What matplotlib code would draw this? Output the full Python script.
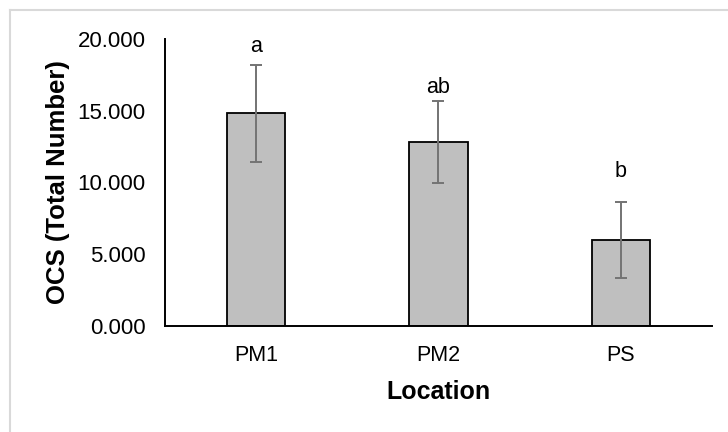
import matplotlib.pyplot as plt
from matplotlib.lines import Line2D

plt.rcParams["font.family"] = ["Liberation Sans", "DejaVu Sans"]

locations = ["PM1", "PM2", "PS"]
means = [14.82, 12.82, 5.99]
errors = [3.40, 2.88, 2.67]
letters = ["a", "ab", "b"]
letter_heights = [19.1, 16.25, 10.4]  # baseline of the significance letters

W, H = 728, 432
fig = plt.figure(figsize=(W / 100, H / 100), dpi=100)

# chart area border (only top and left edges visible)
fig.add_artist(Line2D([10 / W, 10 / W], [0, 1 - 10 / H], color="#d9d9d9", lw=1.5))
fig.add_artist(Line2D([10 / W, 1], [1 - 10 / H, 1 - 10 / H], color="#d9d9d9", lw=1.5))

ax = fig.add_axes([165 / W, 1 - 326 / H, (712 - 165) / W, (326 - 39) / H])

x = range(len(locations))
ax.bar(x, means, width=0.32, color="#bfbfbf", edgecolor="black", linewidth=1.3, zorder=2)
ax.errorbar(x, means, yerr=errors, fmt="none", ecolor="#737373",
            elinewidth=1.4, capsize=4.5, capthick=1.4, zorder=3)

for i, (yy, t) in enumerate(zip(letter_heights, letters)):
    ax.text(i, yy, t, ha="center", va="baseline", fontsize=15.5, clip_on=False)

ax.set_xlim(-0.5, 2.5)
ax.set_ylim(0, 20)
ax.set_yticks([0, 5, 10, 15, 20])
ax.set_yticklabels([f"{v:.3f}" for v in [0, 5, 10, 15, 20]])
ax.set_xticks(list(x))
ax.set_xticklabels(locations)
ax.tick_params(axis="both", length=0, colors="#000000")
ax.tick_params(axis="y", pad=14, labelsize=16)
ax.tick_params(axis="x", pad=13.5, labelsize=15.5)

for s in ["top", "right"]:
    ax.spines[s].set_visible(False)
ax.spines["left"].set_linewidth(1.4)
ax.spines["bottom"].set_linewidth(1.4)

ax.set_ylabel("OCS (Total Number)", fontsize=18.5, fontweight="bold", labelpad=5)
ax.set_xlabel("Location", fontsize=18, fontweight="bold", labelpad=10)

plt.savefig("out.png", dpi=100)
